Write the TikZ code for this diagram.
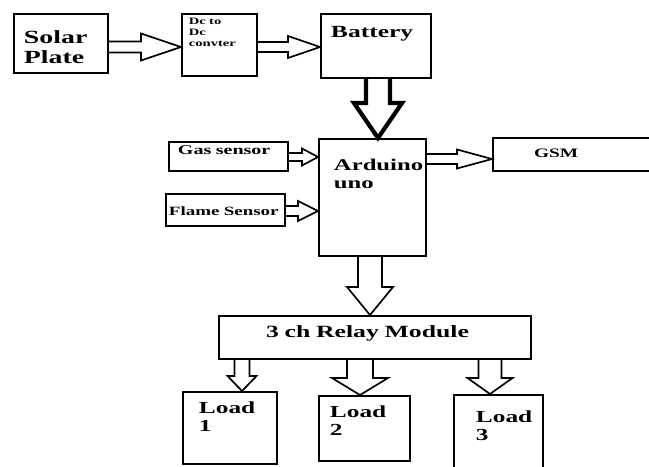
\documentclass[tikz,border=0pt]{standalone}
\usepackage{fontspec}
\setmainfont{Liberation Serif}[FakeStretch=1.5]
\usepackage{tikz}
\usetikzlibrary{calc}

\newdimen\pix
\pix=0.7113pt
\newcommand{\fatarrow}[6][]{%
  \coordinate (fa-s) at (#2);
  \coordinate (fa-t) at (#3);
  \coordinate (fa-b) at ($(fa-t)!#6*0.7113pt!(fa-s)$);
  \draw[fat, #1] ($(fa-s)!#4*0.7113pt!90:(fa-t)$) -- ($(fa-b)!#4*0.7113pt!90:(fa-t)$)
    -- ($(fa-b)!#5*0.7113pt!90:(fa-t)$) -- (fa-t) -- ($(fa-b)!#5*0.7113pt!-90:(fa-t)$)
    -- ($(fa-b)!#4*0.7113pt!-90:(fa-t)$) -- ($(fa-s)!#4*0.7113pt!-90:(fa-t)$);
}

\begin{document}
\begin{tikzpicture}[
    x=0.025cm, y=-0.025cm,
    block/.style={rectangle, draw, line width=1.4pt, anchor=north west, inner ysep=0pt, align=left},
    fat/.style={line width=1.2pt, line join=miter}
]
\useasboundingbox (0,0) rectangle (649,466);

\node[block, text width=74\pix, inner xsep=10\pix, text height=30\pix, text depth=29\pix, font=\bfseries\fontsize{13.2}{14.2}\selectfont] (solar) at (13,13) {Solar\\Plate};
\node[block, text width=61\pix, inner xsep=7\pix, text height=11\pix, text depth=51\pix, font=\bfseries\fontsize{6.9}{7.5}\selectfont] (dc) at (181,13) {Dc to\\Dc\\convter};
\node[block, text width=90\pix, inner xsep=10\pix, text height=24\pix, text depth=40\pix, font=\bfseries\fontsize{12.1}{14}\selectfont] (battery) at (320,13) {Battery};
\node[block, text width=77\pix, inner xsep=15\pix, text height=32\pix, text depth=85\pix, font=\bfseries\fontsize{11.7}{12.8}\selectfont] (arduino) at (318,138) {Arduino\\uno};
\node[block, text width=101\pix, inner xsep=9\pix, text height=13\pix, text depth=16\pix, font=\bfseries\fontsize{9.5}{11}\selectfont] (gas) at (168,141) {Gas sensor};
\node[block, text width=113\pix, inner xsep=3\pix, text height=22\pix, text depth=10\pix, font=\bfseries\fontsize{9}{11}\selectfont] (flame) at (165,193) {Flame Sensor};
\node[block, text width=78\pix, inner xsep=41\pix, text height=20\pix, text depth=13\pix, font=\bfseries\fontsize{9.2}{11}\selectfont] (gsm) at (492,137) {GSM};
\node[block, text width=218\pix, inner xsep=47\pix, text height=22\pix, text depth=21\pix, font=\bfseries\fontsize{12.2}{14}\selectfont] (relay) at (218,315) {3 ch Relay Module};
\node[block, text width=62\pix, inner xsep=16\pix, text height=22\pix, text depth=50\pix, font=\bfseries\fontsize{12}{12.5}\selectfont] (load1) at (182,391) {Load\\1};
\node[block, text width=69\pix, inner xsep=11\pix, text height=22\pix, text depth=43\pix, font=\bfseries\fontsize{12}{12.5}\selectfont] (load2) at (318,395) {Load\\2};
\node[block, text width=45\pix, inner xsep=22\pix, text height=28\pix, text depth=48\pix, font=\bfseries\fontsize{12}{12.5}\selectfont] (load3) at (453,394) {Load\\3};

\fatarrow{solar.east |- 0,47}{dc.west |- 0,47}{5.5}{13.5}{40}
\fatarrow{dc.east |- 0,47}{battery.west |- 0,47}{5}{11}{32}
\fatarrow[line width=3pt]{battery.south -| 378,0}{arduino.north -| 378,0}{12}{24}{35}
\fatarrow{gas.east |- 0,157}{arduino.west |- 0,157}{4}{8.5}{16}
\fatarrow{flame.east |- 0,211}{arduino.west |- 0,211}{5}{10}{20}
\fatarrow{arduino.east |- 0,159}{gsm.west |- 0,159}{5}{9.5}{35}
\fatarrow{arduino.south -| 370,0}{relay.north -| 370,0}{12}{23}{28}
\fatarrow{relay.south -| 242,0}{load1.north -| 242,0}{7.5}{14.5}{15}
\fatarrow{relay.south -| 360,0}{load2.north -| 360,0}{13}{28}{17}
\fatarrow{relay.south -| 490,0}{load3.north -| 490,0}{11.5}{22.5}{16}

\end{tikzpicture}
\end{document}
